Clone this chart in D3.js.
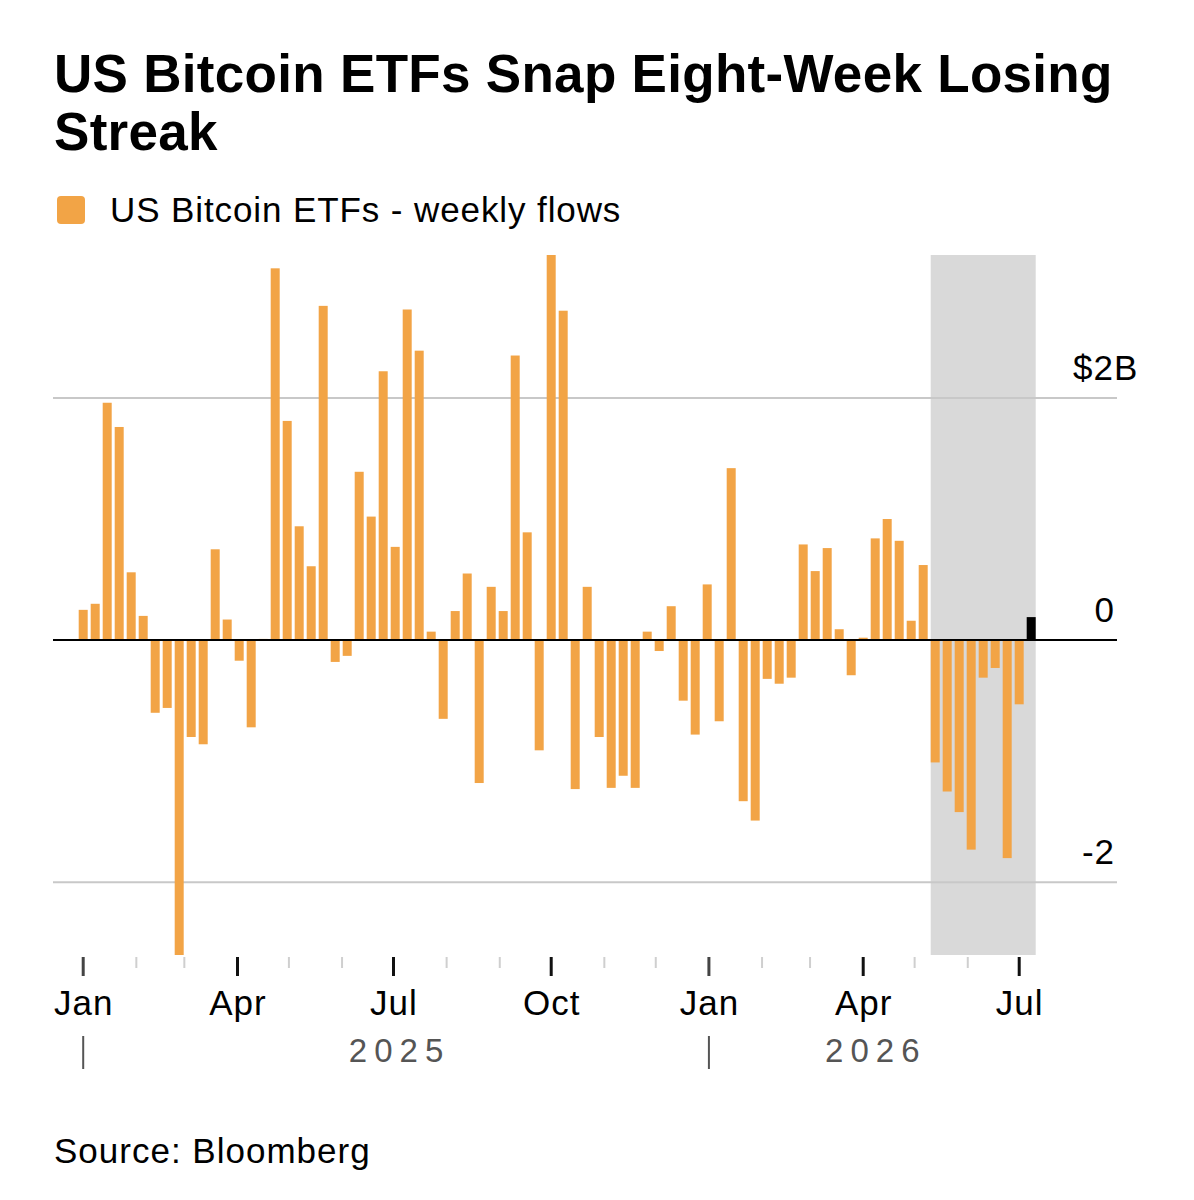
<!DOCTYPE html>
<html>
<head>
<meta charset="utf-8">
<script src="https://cdn.jsdelivr.net/npm/d3@7"></script>
<style>
  body { margin: 0; background: #fff; }
  text { font-family: "Liberation Sans", Arial, sans-serif; }
</style>
</head>
<body>
<div id="chart"></div>
<script>
// weekly net flows, $ billions
var flows = [
  0.25, 0.30, 1.96, 1.76, 0.56, 0.20, -0.60, -0.56, -2.60, -0.80,
  -0.86, 0.75, 0.17, -0.17, -0.72, 0.01, 3.07, 1.81, 0.94, 0.61,
  2.76, -0.18, -0.13, 1.39, 1.02, 2.22, 0.77, 2.73, 2.39, 0.07,
  -0.65, 0.24, 0.55, -1.18, 0.44, 0.24, 2.35, 0.89, -0.91, 3.18,
  2.72, -1.23, 0.44, -0.80, -1.22, -1.12, -1.22, 0.07, -0.09, 0.28,
  -0.50, -0.78, 0.46, -0.67, 1.42, -1.33, -1.49, -0.32, -0.36, -0.31,
  0.79, 0.57, 0.76, 0.09, -0.29, 0.02, 0.84, 1.00, 0.82, 0.16,
  0.62, -1.01, -1.25, -1.42, -1.73, -0.31, -0.23, -1.80, -0.53, 0.19
];
var firstWeek = "2025-01-01";
var yTicks = [-2, 0, 2];
var yTickLabels = ["-2", "0", "$2"];
var yUnit = "B";
var years = ["2025", "2026"];
var majorMonths = [0, 3, 6, 9]; // Jan Apr Jul Oct
var streakStart = 71; // first week of the 8 week losing run
var title = ["US Bitcoin ETFs Snap Eight-Week Losing", "Streak"];
var legendLabel = "US Bitcoin ETFs - weekly flows";
var source = "Source: Bloomberg";

var orange = "#f2a446";
var width = 1194, height = 1200;

var weeks = flows.map((v, i) => d3.utcDay.offset(new Date(firstWeek + "T00:00:00Z"), i * 7));

var svg = d3.select("#chart").append("svg")
  .attr("width", width)
  .attr("height", height);

// title + legend
svg.selectAll(".title")
  .data(title)
  .enter()
  .append("text")
  .attr("class", "title")
  .attr("x", 54)
  .attr("y", (d, i) => 92 + i * 58)
  .style("font-size", "53px")
  .style("font-weight", "bold")
  .style("letter-spacing", "0.3px")
  .attr("fill", "#000")
  .text(d => d);

svg.append("rect")
  .attr("x", 57).attr("y", 196)
  .attr("width", 28).attr("height", 28)
  .attr("rx", 4)
  .attr("fill", orange);

svg.append("text")
  .attr("x", 110).attr("y", 222)
  .style("font-size", "35px")
  .style("letter-spacing", "0.9px")
  .attr("fill", "#000")
  .text(legendLabel);

// scales
var x = d3.scaleUtc()
  .domain([weeks[0], weeks[weeks.length - 1]])
  .range([83.2, 83.2 + (weeks.length - 1) * 12]);

var y = d3.scaleLinear()
  .domain([-2.6, 3.18])
  .range([955, 255]);

var barW = 9;
var left = 53, right = 1117;

// shaded streak region
svg.append("rect")
  .attr("x", x(weeks[streakStart]) - barW / 2)
  .attr("y", y.range()[1])
  .attr("width", x(weeks[weeks.length - 1]) - x(weeks[streakStart]) + barW)
  .attr("height", y.range()[0] - y.range()[1])
  .attr("fill", "#d9d9d9");

// gridlines
svg.selectAll(".grid")
  .data(yTicks.filter(d => d != 0))
  .enter()
  .append("line")
  .attr("class", "grid")
  .attr("x1", left).attr("x2", right)
  .attr("y1", d => y(d)).attr("y2", d => y(d))
  .attr("stroke", "#c8c8c8")
  .attr("stroke-width", 2);

// bars
svg.selectAll(".bar")
  .data(flows)
  .enter()
  .append("rect")
  .attr("class", "bar")
  .attr("x", (d, i) => x(weeks[i]) - barW / 2)
  .attr("y", d => y(Math.max(0, d)))
  .attr("width", barW)
  .attr("height", d => Math.abs(y(d) - y(0)))
  .attr("fill", (d, i) => i == flows.length - 1 ? "#000" : orange);

// zero line
svg.append("line")
  .attr("x1", left).attr("x2", right)
  .attr("y1", y(0)).attr("y2", y(0))
  .attr("stroke", "#000")
  .attr("stroke-width", 2);

// y labels, sitting above their lines. the unit hangs past the numbers
var topTick = d3.max(yTicks);
svg.selectAll(".ylab")
  .data(yTicks)
  .enter()
  .append("text")
  .attr("class", "ylab")
  .attr("x", d => d == topTick ? 1114 : 1115)
  .attr("y", d => y(d) - 18)
  .attr("text-anchor", "end")
  .style("font-size", "35px")
  .style("letter-spacing", "1px")
  .text((d, i) => yTickLabels[i]);

svg.append("text")
  .attr("x", 1114)
  .attr("y", y(topTick) - 18)
  .style("font-size", "35px")
  .style("letter-spacing", "1px")
  .text(yUnit);

// month ticks
var months = x.ticks(d3.utcMonth.every(1));
svg.selectAll(".mtick")
  .data(months)
  .enter()
  .append("line")
  .attr("class", "mtick")
  .attr("x1", d => x(d)).attr("x2", d => x(d))
  .attr("y1", 957)
  .attr("y2", d => majorMonths.includes(d.getUTCMonth()) ? 976 : 968)
  .attr("stroke", d => {
    if (d.getUTCMonth() == 0) return "#444";
    return majorMonths.includes(d.getUTCMonth()) ? "#111" : "#cfcfcf";
  })
  .attr("stroke-width", d => majorMonths.includes(d.getUTCMonth()) ? 3 : 2);

svg.selectAll(".mlab")
  .data(months.filter(d => majorMonths.includes(d.getUTCMonth())))
  .enter()
  .append("text")
  .attr("class", "mlab")
  .attr("x", d => x(d) + 0.5)
  .attr("y", 1015)
  .attr("text-anchor", "middle")
  .style("font-size", "35px")
  .style("letter-spacing", "1px")
  .text(d => d3.utcFormat("%b")(d));

// year markers
var yearStarts = years.map(d => new Date(d + "-01-01T00:00:00Z"));
svg.selectAll(".ytick")
  .data(yearStarts)
  .enter()
  .append("line")
  .attr("class", "ytick")
  .attr("x1", d => x(d)).attr("x2", d => x(d))
  .attr("y1", 1036).attr("y2", 1069)
  .attr("stroke", "#555")
  .attr("stroke-width", 2);

var endX = x(weeks[weeks.length - 1]) + barW / 2;
svg.selectAll(".ylabel")
  .data(yearStarts)
  .enter()
  .append("text")
  .attr("class", "ylabel")
  .attr("x", (d, i) => {
    var a = x(d);
    var b = i < yearStarts.length - 1 ? x(yearStarts[i + 1]) : endX;
    return (a + b) / 2 + 3.5;
  })
  .attr("y", 1062)
  .attr("text-anchor", "middle")
  .style("font-size", "33px")
  .style("letter-spacing", "7px")
  .attr("fill", "#555")
  .text((d, i) => years[i]);

svg.append("text")
  .attr("x", 54).attr("y", 1163)
  .style("font-size", "35px")
  .style("letter-spacing", "1px")
  .attr("fill", "#000")
  .text(source);
</script>
</body>
</html>
